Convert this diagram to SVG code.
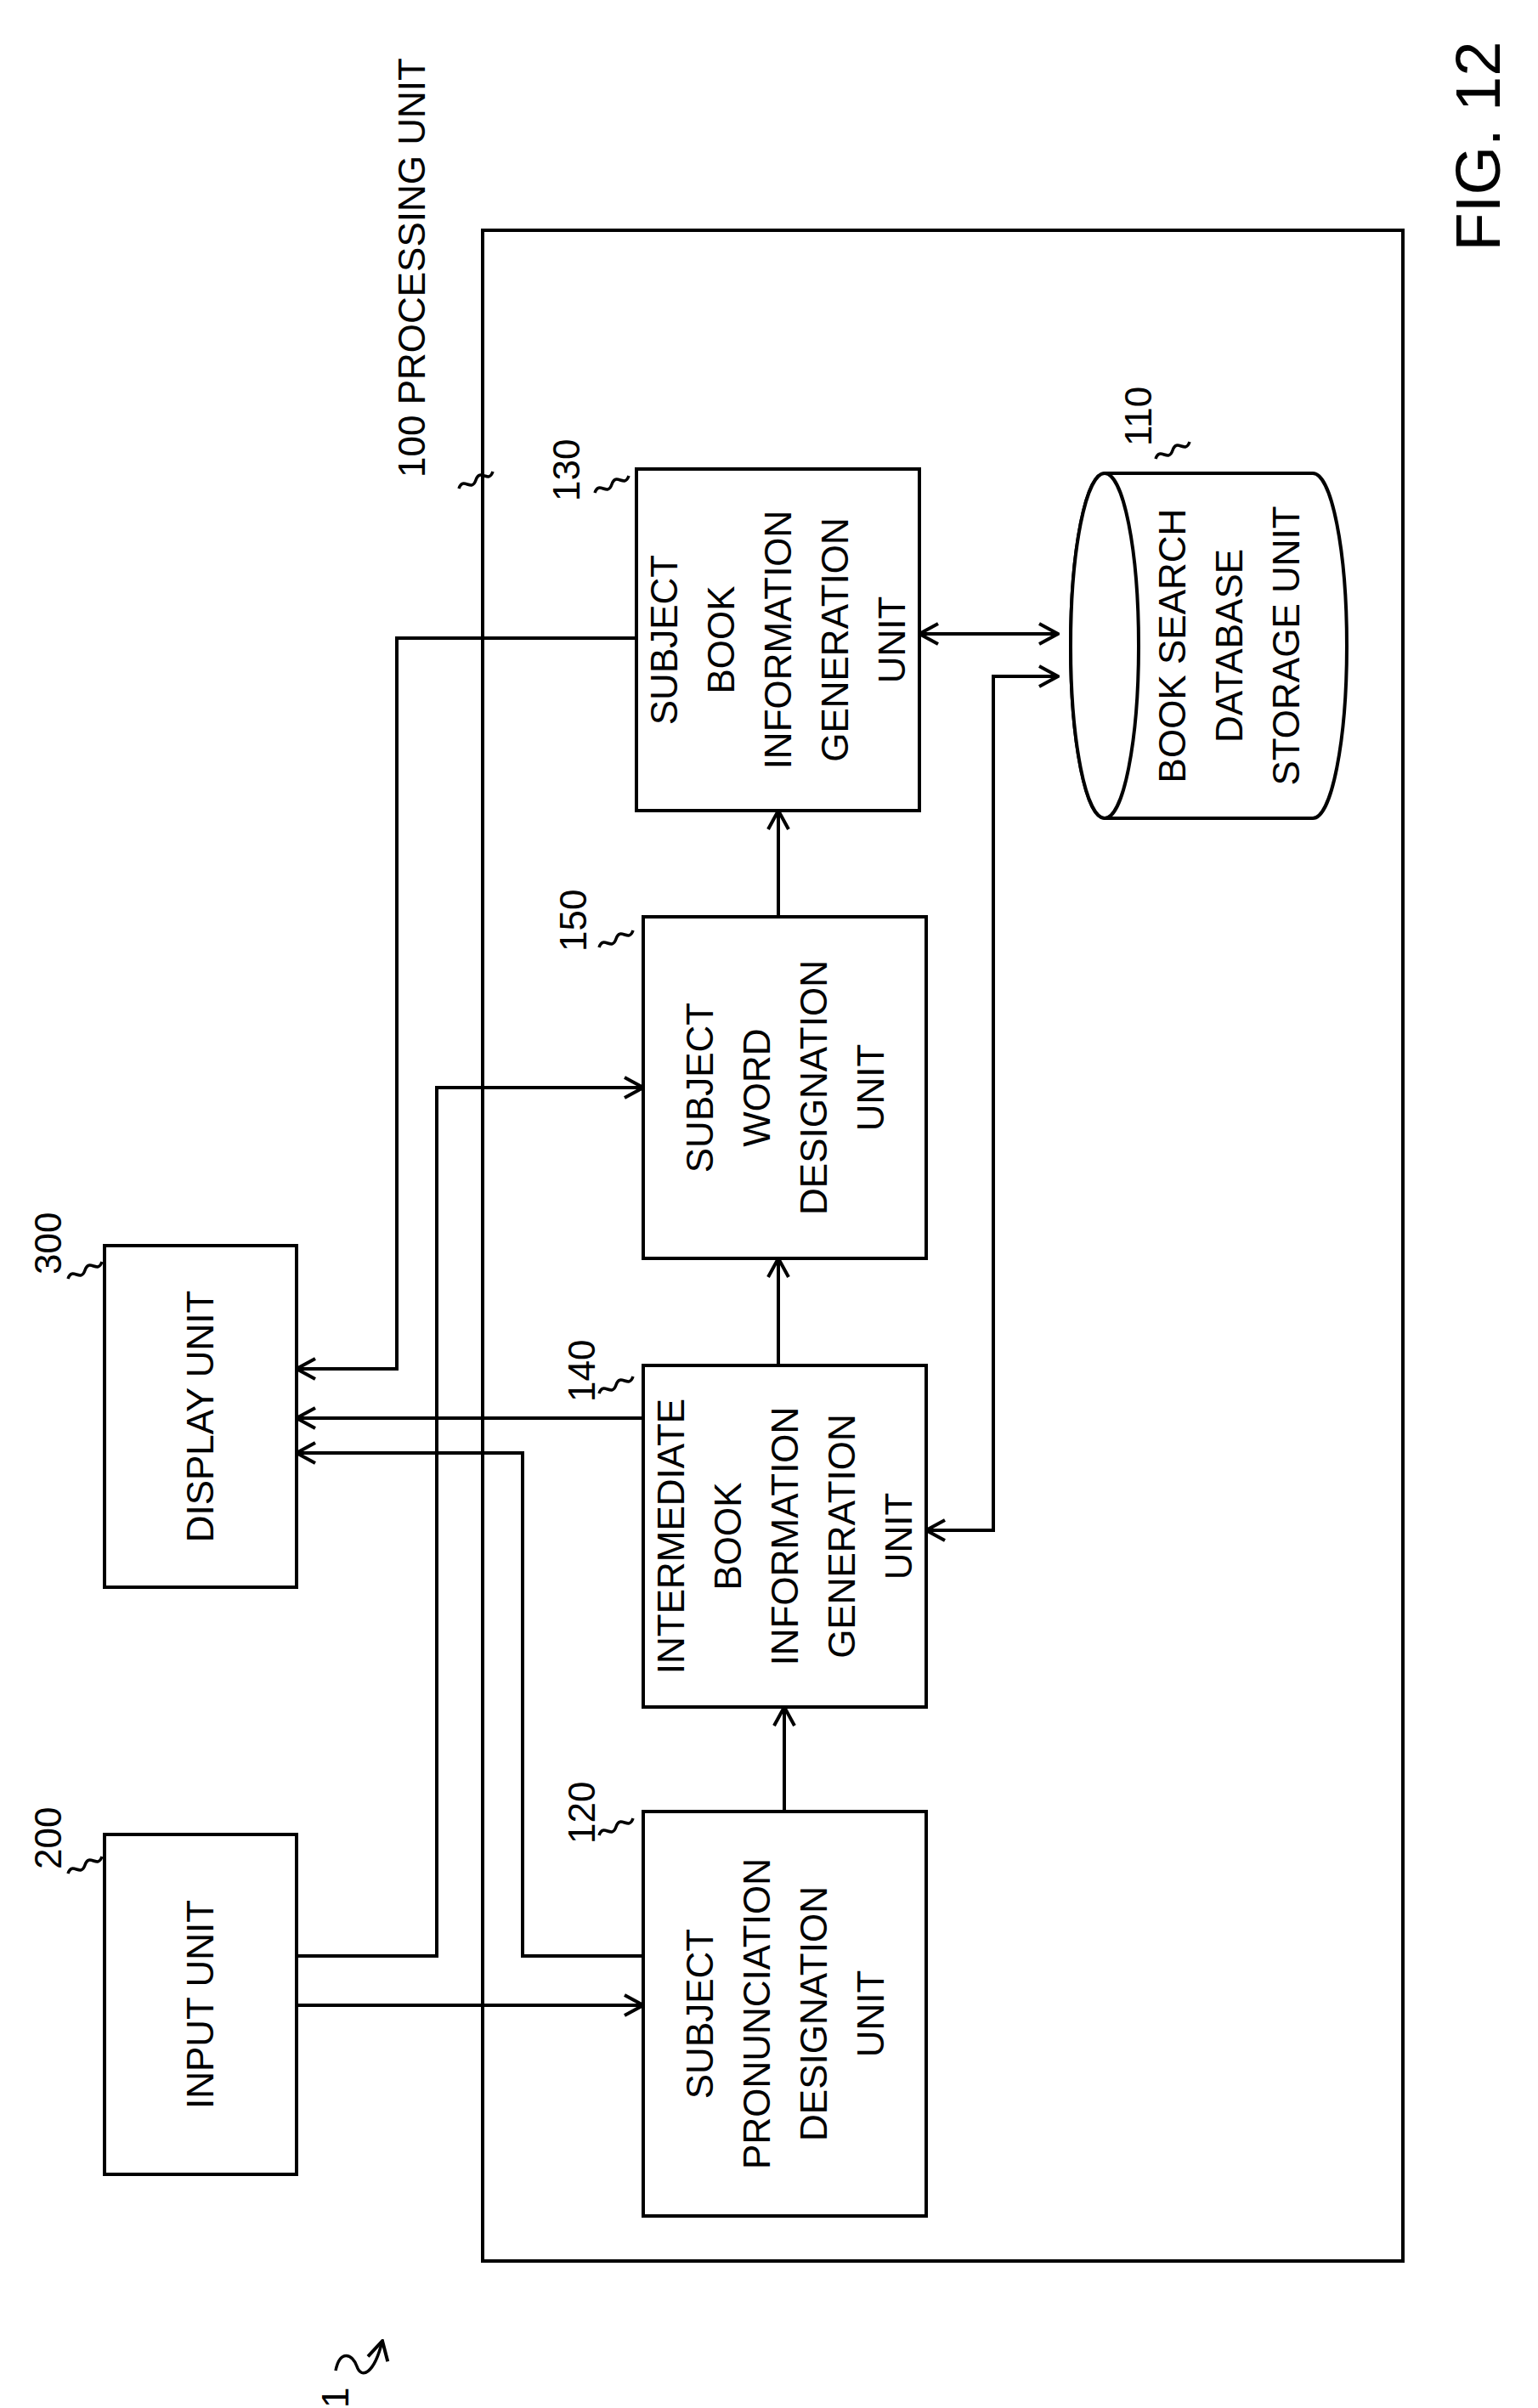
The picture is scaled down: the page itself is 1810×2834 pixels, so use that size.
<svg xmlns="http://www.w3.org/2000/svg" width="1810" height="2834" viewBox="0 0 1810 2834">
<style>
.b{fill:#fff;stroke:#000;stroke-width:4}
.l{fill:none;stroke:#000;stroke-width:4}
.s{fill:none;stroke:#000;stroke-width:3.5}
text{font-family:"Liberation Sans",Arial,sans-serif;font-size:44px;fill:#000}
</style>
<defs>
<marker id="a" markerWidth="28" markerHeight="28" refX="26" refY="14" orient="auto-start-reverse" markerUnits="userSpaceOnUse" viewBox="0 0 28 28"><path d="M4,2 L26,14 L4,26" fill="none" stroke="#000" stroke-width="4"/></marker>
</defs>
<rect width="1810" height="2834" fill="#fff"/>
<text transform="translate(1765,172) rotate(-90)" text-anchor="middle" style="font-size:74px">FIG. 12</text>
<g id="n100"><rect class="b" x="568" y="271" width="1083" height="2390"/>
<text transform="translate(500,562) rotate(-90)">100  PROCESSING UNIT</text>
<path class="s" d="M540,575 c5,-15 15,5 20,-10 c5,-15 15,5 20,-10"/></g>
<g id="n300"><rect class="b" x="123" y="1466" width="226" height="402"/>
<text transform="translate(251,1667) rotate(-90)" text-anchor="middle">DISPLAY UNIT</text>
<text transform="translate(72,1500) rotate(-90)">300</text>
<path class="s" d="M80,1505 c5,-15 15,5 20,-10 c5,-15 15,5 20,-10"/></g>
<g id="n200"><rect class="b" x="123" y="2159" width="226" height="400"/>
<text transform="translate(251,2359) rotate(-90)" text-anchor="middle">INPUT UNIT</text>
<text transform="translate(72,2200) rotate(-90)">200</text>
<path class="s" d="M80,2205 c5,-15 15,5 20,-10 c5,-15 15,5 20,-10"/></g>
<g id="n120"><rect class="b" x="757" y="2132" width="333" height="476"/>
<text transform="translate(923,2370) rotate(-90)" text-anchor="middle"><tspan x="0" y="-84">SUBJECT</tspan><tspan x="0" y="-17">PRONUNCIATION</tspan><tspan x="0" y="50">DESIGNATION</tspan><tspan x="0" y="117">UNIT</tspan></text>
<text transform="translate(700,2170) rotate(-90)">120</text>
<path class="s" d="M705,2160 c5,-15 15,5 20,-10 c5,-15 15,5 20,-10"/></g>
<g id="n140"><rect class="b" x="757" y="1607" width="333" height="402"/>
<text transform="translate(923,1808) rotate(-90)" text-anchor="middle"><tspan x="0" y="-118">INTERMEDIATE</tspan><tspan x="0" y="-51">BOOK</tspan><tspan x="0" y="16">INFORMATION</tspan><tspan x="0" y="83">GENERATION</tspan><tspan x="0" y="150">UNIT</tspan></text>
<text transform="translate(700,1650) rotate(-90)">140</text>
<path class="s" d="M705,1640 c5,-15 15,5 20,-10 c5,-15 15,5 20,-10"/></g>
<g id="n150"><rect class="b" x="757" y="1079" width="333" height="402"/>
<text transform="translate(923,1280) rotate(-90)" text-anchor="middle"><tspan x="0" y="-84">SUBJECT</tspan><tspan x="0" y="-17">WORD</tspan><tspan x="0" y="50">DESIGNATION</tspan><tspan x="0" y="117">UNIT</tspan></text>
<text transform="translate(690,1120) rotate(-90)">150</text>
<path class="s" d="M705,1115 c5,-15 15,5 20,-10 c5,-15 15,5 20,-10"/></g>
<g id="n130"><rect class="b" x="749" y="552" width="333" height="402"/>
<text transform="translate(915,753) rotate(-90)" text-anchor="middle"><tspan x="0" y="-118">SUBJECT</tspan><tspan x="0" y="-51">BOOK</tspan><tspan x="0" y="16">INFORMATION</tspan><tspan x="0" y="83">GENERATION</tspan><tspan x="0" y="150">UNIT</tspan></text>
<text transform="translate(682,590) rotate(-90)">130</text>
<path class="s" d="M700,580 c5,-15 15,5 20,-10 c5,-15 15,5 20,-10"/></g>
<g id="n110"><path class="b" d="M1300,557 L1545,557 A40,203 0 0 1 1545,963 L1300,963 A40,203 0 0 1 1300,557 Z"/>
<ellipse class="b" cx="1300" cy="760" rx="40" ry="203"/>
<text transform="translate(1445,760) rotate(-90)" text-anchor="middle"><tspan x="0" y="-50">BOOK SEARCH</tspan><tspan x="0" y="17">DATABASE</tspan><tspan x="0" y="84">STORAGE UNIT</tspan></text>
<text transform="translate(1355,525) rotate(-90)">110</text>
<path class="s" d="M1360,540 c5,-15 15,5 20,-10 c5,-15 15,5 20,-10"/></g>
<g id="n1"><text transform="translate(410,2834) rotate(-90)">1</text>
<path class="s" d="M395,2790 c5,-25 20,-20 25,-5 c5,15 20,10 30,-30" marker-end="url(#a)"/></g>
<g id="connectors">
<path class="l" marker-end="url(#a)" d="M749,751 H467 V1611 H349"/>
<path class="l" marker-end="url(#a)" d="M757,1669 H349"/>
<path class="l" marker-end="url(#a)" d="M757,2302 H615 V1710 H349"/>
<path class="l" marker-end="url(#a)" d="M349,2302 H514 V1280 H757"/>
<path class="l" marker-end="url(#a)" d="M349,2360 H757"/>
<path class="l" marker-end="url(#a)" d="M923,2132 V2009"/>
<path class="l" marker-end="url(#a)" d="M916,1607 V1481"/>
<path class="l" marker-end="url(#a)" d="M916,1079 V954"/>
<path class="l" marker-start="url(#a)" marker-end="url(#a)" d="M1082,746 H1245"/>
<path class="l" marker-start="url(#a)" marker-end="url(#a)" d="M1090,1801 H1169 V796 H1245"/>
</g>
</svg>
